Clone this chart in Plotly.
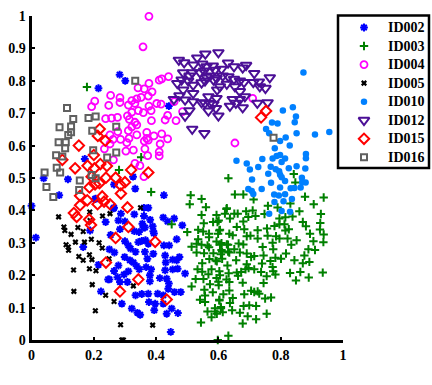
import plotly.graph_objects as go

# values, (x, y) per series
id002 = [(.283,.819),(.301,.800),(.215,.777),(.441,.722),(.171,.559),(.039,.499),(.117,.496),(.265,.480),(.326,.504),(.333,.467),
 (.089,.447),(.206,.436),(.425,.447),(.265,.408),(.287,.390),(.330,.388),(.361,.408),(.375,.408),(.361,.383),(.381,.371),
 (.279,.369),(.238,.364),(.300,.366),(.423,.378),(.437,.366),(.458,.375),(.484,.354),(.356,.359),(.359,.347),(.389,.351),
 (.391,.336),(.330,.336),(.345,.333),(.188,.338),(.254,.324),(.366,.308),(.354,.306),(.300,.305),(.375,.297),(.343,.302),
 (.466,.311),(.425,.292),(.442,.292),(.166,.287),(.311,.292),(.250,.280),(.266,.270),(.318,.282),(.334,.272),(.299,.256),
 (.364,.272),(.391,.266),(.372,.251),(.429,.261),(.475,.256),(.453,.248),(.466,.246),(.327,.239),(.338,.228),(.215,.232),
 (.279,.230),(.368,.225),(.431,.239),(.265,.213),(.311,.212),(.297,.202),(.346,.218),(.384,.218),(.429,.215),(.453,.218),
 (.469,.220),(.493,.205),(.276,.194),(.246,.187),(.250,.187),(.284,.179),(.308,.179),(.380,.200),(.380,.181),(.412,.191),
 (.434,.189),(.441,.174),(.439,.158),(.223,.150),(.334,.138),(.354,.142),(.375,.143),(.405,.143),(.423,.138),(.459,.148),
 (.479,.148),(.290,.112),(.377,.117),(.397,.112),(.423,.112),(.322,.097),(.340,.084),(.349,.078),(.394,.092),(.434,.081),
 (.450,.097),(.470,.083),(.447,.025),(.000,.414),(.014,.316),(.204,.435),(.263,.406),(.284,.342),(.364,.347),(.393,.329),(.316,.246)]
id003 = [(.178,.781),(.352,.564),(.281,.525),(.384,.457),(.450,.357),(.632,.499),(.842,.512),(.847,.486),
 (.878,.442),(.938,.440),(.906,.419),(.831,.421),(.759,.414),(.713,.434),(.653,.449),(.680,.449),(.627,.407),(.790,.409),
 (.860,.397),(.621,.390),(.662,.390),(.689,.397),(.710,.400),(.651,.390),(.719,.383),(.748,.389),(.637,.375),(.696,.380),
 (.680,.366),(.815,.379),(.838,.381),(.796,.375),(.929,.389),(.871,.364),(.881,.351),(.927,.361),(.812,.357),(.796,.357),
 (.780,.352),(.756,.344),(.726,.339),(.683,.342),(.659,.349),(.826,.342),(.815,.338),(.926,.341),(.597,.364),(.603,.338),
 (.635,.328),(.646,.323),(.691,.320),(.703,.322),(.758,.322),(.785,.320),(.726,.313),(.822,.313),(.894,.328),(.938,.326),
 (.796,.313),(.937,.302),(.905,.305),(.851,.308),(.834,.294),(.774,.300),(.665,.298),(.680,.295),(.627,.295),(.605,.294),
 (.742,.287),(.776,.280),(.889,.280),(.910,.278),(.651,.280),(.635,.270),(.612,.272),(.669,.270),(.691,.267),(.715,.259),
 (.745,.261),(.705,.256),(.876,.261),(.817,.267),(.801,.251),(.783,.254),(.657,.246),(.612,.251),(.595,.243),(.844,.246),
 (.892,.241),(.871,.237),(.767,.244),(.740,.236),(.691,.234),(.629,.230),(.715,.218),(.697,.222),(.774,.225),(.687,.218),
 (.776,.212),(.783,.202),(.737,.210),(.830,.207),(.935,.208),(.863,.210),(.755,.197),(.890,.193),(.849,.184),(.673,.210),
 (.659,.208),(.633,.206),(.603,.212),(.605,.200),(.663,.198),(.626,.187),(.635,.179),(.678,.177),(.745,.176),(.601,.169),
 (.635,.153),(.705,.152),(.726,.150),(.715,.148),(.731,.143),(.683,.141),(.616,.141),(.750,.128),(.769,.131),(.646,.130),
 (.603,.122),(.637,.114),(.681,.105),(.699,.107),(.721,.105),(.608,.102),(.644,.092),(.614,.086),(.595,.081),(.669,.084),
 (.694,.073),(.721,.064),(.755,.081),(.678,.051),(.632,.013),(.598,.000),
 (.514,.288),(.530,.297),(.546,.294),(.565,.292),(.530,.270),(.554,.268),(.584,.268),(.571,.250),(.591,.245),(.548,.237),
 (.533,.218),(.548,.211),(.578,.218),(.568,.203),(.527,.188),(.552,.188),(.594,.191),(.600,.180),(.573,.172),(.514,.165),
 (.555,.155),(.582,.147),(.557,.137),(.541,.124),(.557,.117),(.603,.124),(.565,.088),(.578,.070),(.589,.098),(.589,.088),
 (.608,.098),(.544,.054),
 (.511,.447),(.508,.419),(.546,.435),(.560,.410),(.546,.386),(.594,.386),(.626,.404),(.601,.369),(.583,.364),(.553,.360),
 (.500,.333),(.535,.340),(.551,.335),(.570,.328),(.570,.317),(.605,.340),(.599,.328),(.535,.311),(.570,.286),(.594,.304),
 (.610,.278),(.608,.265),(.631,.273),(.610,.299),(.631,.294)]
id004 = [(.377,.999),(.358,.905),(.377,.792),(.342,.778),(.362,.775),(.387,.766),(.375,.753),(.352,.749),(.254,.755),(.284,.748),
 (.203,.737),(.193,.720),(.248,.724),(.284,.733),(.322,.739),(.338,.744),(.311,.725),(.332,.730),(.377,.722),(.402,.730),
 (.416,.728),(.384,.708),(.410,.802),(.418,.806),(.440,.813),(.458,.736),(.485,.705),(.464,.677),(.437,.693),(.429,.679),
 (.385,.677),(.359,.702),(.343,.708),(.322,.703),(.308,.692),(.314,.681),(.238,.683),(.257,.685),(.276,.687),(.332,.672),
 (.338,.664),(.322,.658),(.311,.646),(.338,.633),(.277,.643),(.252,.633),(.262,.619),(.286,.619),(.313,.622),(.370,.641),
 (.370,.622),(.418,.636),(.393,.630),(.437,.621),(.375,.617),(.362,.614),(.306,.609),(.252,.605),(.234,.590),(.303,.583),
 (.327,.586),(.413,.605),(.364,.590),(.410,.581),(.410,.568),(.373,.569),(.263,.556),(.332,.545),(.348,.538),(.361,.504),
 (.710,.746),(.653,.608)]
id005 = [(.350,.408),(.087,.380),(.187,.395),(.252,.390),(.228,.383),(.188,.369),(.104,.349),(.107,.338),(.149,.347),(.166,.335),
 (.127,.326),(.192,.311),(.141,.302),(.170,.302),(.217,.300),(.111,.294),(.118,.287),(.119,.277),(.227,.284),(.152,.258),
 (.186,.263),(.166,.246),(.194,.248),(.249,.251),(.135,.216),(.186,.220),(.207,.214),(.195,.171),(.327,.167),(.136,.150),
 (.238,.138),(.265,.119),(.205,.090),(.286,.047),(.389,.046),(.290,.000),(.295,.000)]
id010 = [(.839,.718),(.807,.708),(.849,.690),(.845,.672),(.772,.671),(.790,.668),(.753,.651),(.851,.638),(.763,.638),(.910,.634),
 (.956,.642),(.816,.625),(.798,.614),(.829,.600),(.781,.592),(.881,.574),(.881,.561),(.798,.571),(.787,.568),(.774,.560),
 (.814,.560),(.803,.549),(.658,.553),(.691,.545),(.741,.559),(.728,.534),(.701,.526),(.768,.535),(.784,.527),(.795,.521),
 (.826,.530),(.851,.536),(.879,.529),(.760,.513),(.798,.510),(.803,.502),(.814,.491),(.708,.495),(.769,.485),(.868,.501),
 (.869,.487),(.880,.486),(.798,.471),(.844,.469),(.832,.468),(.739,.466),(.696,.466),(.707,.460),(.712,.451),(.779,.449),
 (.794,.446),(.814,.450),(.836,.435),(.780,.426),(.809,.428),(.830,.396),(.803,.398),(.763,.390),(.864,.471),(.873,.826)]
id012 = [(.558,.883),(.600,.887),(.532,.871),(.473,.864),(.490,.856),(.520,.849),(.548,.852),(.631,.855),(.562,.844),(.582,.846),
 (.650,.844),(.689,.848),(.678,.840),(.610,.836),(.589,.833),(.554,.831),(.487,.825),(.516,.825),(.541,.825),(.715,.823),
 (.765,.810),(.573,.815),(.632,.813),(.614,.815),(.562,.811),(.507,.815),(.594,.808),(.482,.803),(.503,.800),(.584,.803),
 (.650,.805),(.669,.800),(.682,.795),(.712,.795),(.730,.797),(.468,.792),(.519,.787),(.546,.794),(.557,.800),(.627,.790),
 (.605,.782),(.653,.782),(.733,.782),(.751,.777),(.487,.772),(.596,.772),(.519,.761),(.669,.767),(.475,.754),(.457,.743),
 (.568,.751),(.685,.751),(.594,.746),(.519,.736),(.493,.741),(.546,.733),(.573,.731),(.646,.743),(.669,.743),(.725,.731),
 (.758,.733),(.557,.731),(.584,.728),(.637,.722),(.656,.731),(.678,.717),(.592,.715),(.507,.708),(.568,.707),(.493,.691),
 (.600,.692),(.516,.651),(.555,.638)]
id015 = [(.219,.651),(.213,.630),(.237,.615),(.152,.600),(.099,.556),(.200,.571),(.140,.530),(.180,.538),(.202,.530),(.221,.543),
 (.242,.537),(.320,.525),(.375,.517),(.239,.501),(.270,.501),(.300,.487),(.286,.478),(.218,.484),(.204,.480),(.186,.471),
 (.193,.504),(.287,.452),(.156,.445),(.179,.431),(.156,.416),(.212,.419),(.227,.443),(.233,.427),(.252,.419),(.308,.409),
 (.136,.392),(.145,.380),(.185,.372),(.191,.355),(.311,.349),(.270,.315),(.397,.303),(.239,.239),(.343,.187),(.284,.150),
 (.434,.125),(.737,.687),(.753,.707)]
id016 = [(.114,.716),(.134,.682),(.183,.685),(.206,.690),(.090,.657),(.127,.659),(.127,.641),(.118,.633),(.195,.646),(.272,.658),
 (.087,.610),(.110,.610),(.108,.592),(.079,.570),(.099,.566),(.198,.586),(.243,.563),(.272,.579),(.081,.532),(.092,.517),
 (.042,.517),(.048,.472),(.155,.492),(.193,.509),(.206,.499),(.153,.463),(.333,.800),(.070,.441),(.777,.624)]

names = ["ID002", "ID003", "ID004", "ID005", "ID010", "ID012", "ID015", "ID016"]
series = [id002, id003, id004, id005, id010, id012, id015, id016]
symbols = ["asterisk-open", "cross-thin-open", "circle-open", "x-thin-open", "circle", "triangle-down-open", "diamond-open", "square-open"]
colors = ["#0000ff", "#008000", "#ff00ff", "#000000", "#0080ff", "#4b0f96", "#ff0000", "#606060"]
sizes = [6.5, 6, 7, 4.5, 6.5, 9.5, 8, 6]
widths = [2, 2, 1.8, 2.2, 0, 2, 2, 2]

serif = "Liberation Serif"
fig = go.Figure()
for name, pts, sym, col, sz, w in zip(names, series, symbols, colors, sizes, widths):
    fig.add_trace(go.Scatter(
        x=[p[0] for p in pts], y=[p[1] for p in pts], name=name, mode="markers", cliponaxis=False,
        showlegend=False,
        marker=dict(symbol=sym, size=sz, color=col, line=dict(color=col, width=w)),
    ))

# legend drawn on a pixel-scaled overlay, plotly's own legend can't do rows this tight
row_h = 18.55
for n, (name, sym, col, sz, w) in enumerate(zip(names, symbols, colors, sizes, widths)):
    y = 27.5 + n * row_h
    fig.add_trace(go.Scatter(
        x=[364], y=[y], xaxis="x2", yaxis="y2", mode="markers", showlegend=False, hoverinfo="skip",
        marker=dict(symbol=sym, size=sz, color=col, line=dict(color=col, width=w)),
    ))
    fig.add_annotation(x=386, y=y, xref="x2", yref="y2", text="<b>%s</b>" % name, showarrow=False, xanchor="left",
                       font=dict(family=serif, size=14, color="black"))
fig.add_shape(type="rect", x0=338, x1=429, y0=15.5, y1=168, xref="x2", yref="y2",
              line=dict(color="black", width=2.5), fillcolor="white", layer="below")

axis_style = dict(showgrid=False, zeroline=False, showline=True, linecolor="black", linewidth=3,
                  ticks="inside", ticklen=3, tickwidth=2, tickcolor="black", range=[0, 1], automargin=False,
                  tickfont=dict(family=serif, size=14, color="black"))
fig.update_layout(
    width=432, height=385, margin=dict(l=0, r=0, t=0, b=0), plot_bgcolor="rgba(0,0,0,0)", paper_bgcolor="white",
    xaxis=dict(axis_style, domain=[31.5 / 432, 343 / 432], tickvals=[0, .2, .4, .6, .8, 1],
               ticktext=["<b>%s</b>" % t for t in ["0", "0.2", "0.4", "0.6", "0.8", "1"]]),
    yaxis=dict(axis_style, domain=[45 / 385, 369 / 385], tickvals=[i / 10 for i in range(11)],
               ticktext=["<b>%s</b>" % t for t in ["0", "0.1", "0.2", "0.3", "0.4", "0.5", "0.6", "0.7", "0.8", "0.9", "1"]]),
    xaxis2=dict(domain=[0, 1], range=[0, 432], visible=False, fixedrange=True, anchor="y2", automargin=False),
    yaxis2=dict(domain=[0, 1], range=[385, 0], visible=False, fixedrange=True, anchor="x2", automargin=False),
)
fig.write_html("out.html", post_script="document.body.style.margin='0';", config={"displayModeBar": False})
